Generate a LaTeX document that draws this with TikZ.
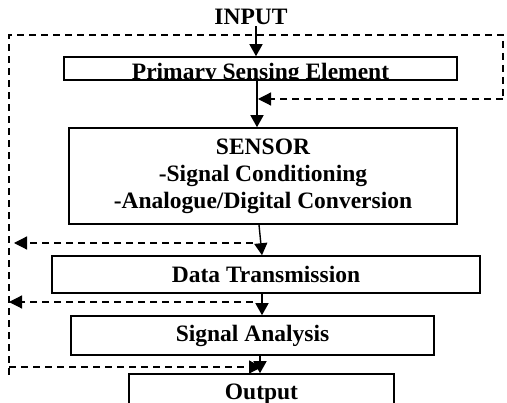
\documentclass[tikz,border=0pt]{standalone}
\usepackage{fontspec}
\setmainfont{Liberation Serif}
\usetikzlibrary{arrows.meta, positioning}

\begin{document}
\begin{tikzpicture}[
    x=1pt, y=-1pt,
    % styles of the blocks
    block/.style={rectangle, draw, line width=1.6pt, inner sep=0pt, align=center, font=\fontsize{23.5}{27}\selectfont\bfseries},
    lbl/.style={inner sep=1pt, font=\fontsize{23.5}{27}\selectfont\bfseries},
    arrow/.style={-{Triangle[length=12pt, width=13pt]}, line width=1.4pt},
    feedback/.style={-{Triangle[length=13pt, width=13pt]}, line width=1.2pt, dash pattern=on 7pt off 5pt},
    loopline/.style={line width=1.2pt, dash pattern=on 7pt off 5pt}
]
\clip (0,0) rectangle (507,403);

% input label
\node (input) [lbl, anchor=base] at (251,25) {INPUT};

% --- blocks ---
\node (pse) [block, minimum width=393pt, minimum height=23pt] at (260.5,68.5) {};
\begin{scope}
    \clip (pse.north west) rectangle (pse.south east);
    \node (pseText) [lbl, anchor=base, inner sep=0pt] at ([yshift=1pt]pse.south) {Primary Sensing Element};
\end{scope}

\node (sensor) [block, minimum width=388pt, minimum height=96pt] at (263,176)
    {SENSOR\\-Signal Conditioning\\-Analogue/Digital Conversion};
\node (dt) [block, minimum width=428pt, minimum height=37pt] at (266,274.5) {Data Transmission};
\node (sa) [block, minimum width=363pt, minimum height=39pt] at (252.5,335.5) {Signal Analysis};
\node (out) [block, minimum width=265pt, minimum height=40pt] at (261.5,394) {Output};

% --- feedback points ---
\coordinate (loopTL) at (9,35);
\coordinate (loopTR) at (503,35);
\coordinate (loopR) at (503,99);
\coordinate (tapPse) at (258,99);
\coordinate (loopEnd) at (9,375);
\coordinate (fromSensor) at (253,243);
\coordinate (toLeftA) at (14,243);
\coordinate (fromDt) at (253,302);
\coordinate (toLeftB) at (9,302);
\coordinate (fromLeft) at (9,367);
\coordinate (toOut) at (262,367);

% --- main arrows ---
\draw [arrow] ([xshift=5pt]input.south) -- ([xshift=5pt]input.south |- pse.north);
\draw [arrow] ([xshift=-3.5pt]pse.south) -- ([xshift=-3.5pt]pse.south |- sensor.north);
\draw [arrow] ([xshift=-4pt]sensor.south) -- ([xshift=-4pt]dt.north);
\draw [arrow] ([xshift=-4pt]dt.south) -- ([xshift=-4pt]dt.south |- sa.north);
\draw [arrow] ([xshift=7.5pt]sa.south) -- ([xshift=7.5pt]sa.south |- out.north);

% --- dashed feedback ---
\draw [loopline] (loopEnd) -- (loopTL) -- (loopTR) -- (loopR);
\draw [feedback] (loopR) -- (tapPse);
\draw [feedback] (fromSensor) -- (toLeftA);
\draw [feedback] (fromDt) -- (toLeftB);
\draw [feedback] (fromLeft) -- (toOut);

\end{tikzpicture}
\end{document}
